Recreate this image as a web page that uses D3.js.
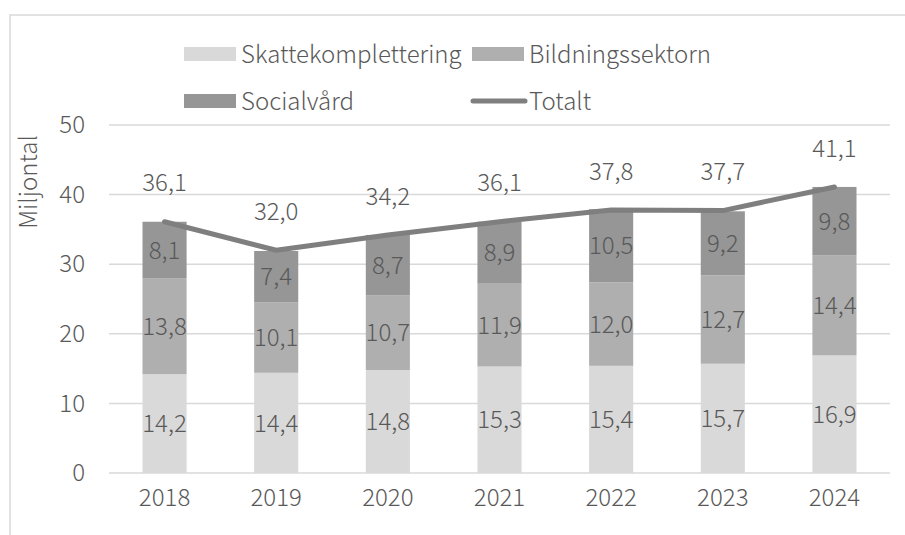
<!DOCTYPE html>
<html>
<head>
<meta charset="utf-8">
<script src="https://cdn.jsdelivr.net/npm/d3@7"></script>
<style>
    body { margin: 0; background: #fff; }
    text { font-family: "Noto Sans CJK JP", "Noto Sans", sans-serif; font-weight: 300; fill: #595959; }
</style>
</head>
<body>
<div id="chart"></div>
<script>

const years = ["2018", "2019", "2020", "2021", "2022", "2023", "2024"];
const skattekomplettering = [14.2, 14.4, 14.8, 15.3, 15.4, 15.7, 16.9];
const bildningssektorn = [13.8, 10.1, 10.7, 11.9, 12.0, 12.7, 14.4];
const socialvard = [8.1, 7.4, 8.7, 8.9, 10.5, 9.2, 9.8];
const totalt = [36.1, 32.0, 34.2, 36.1, 37.8, 37.7, 41.1];
const yTicks = [0, 10, 20, 30, 40, 50];

const seriesNames = ["Skattekomplettering", "Bildningssektorn", "Socialvård"];
const seriesColors = ["#d9d9d9", "#afafaf", "#969696"];
const lineColor = "#7f7f7f";
const fontSize = 24;

function drawChart() {

    const dimesions = {
        width: 905,
        height: 535,
        margin: { top: 125, bottom: 62, left: 109, right: 15 }
    }
    dimesions.containerWidth = dimesions.width - (dimesions.margin.left + dimesions.margin.right);
    dimesions.containerHeight = dimesions.height - (dimesions.margin.top + dimesions.margin.bottom);

    const svg = d3.select("#chart")
        .append("svg")
        .attr("width", dimesions.width)
        .attr("height", dimesions.height);

    // outer frame
    svg.append("rect")
        .attr("x", 10)
        .attr("y", 15)
        .attr("width", 1000)
        .attr("height", 1000)
        .attr("fill", "none")
        .attr("stroke", "#d9d9d9")
        .attr("stroke-width", 1.5);

    const table = years.map((year, i) => ({
        year,
        "Skattekomplettering": skattekomplettering[i],
        "Bildningssektorn": bildningssektorn[i],
        "Socialvård": socialvard[i],
        total: totalt[i]
    }));

    const stacked = d3.stack().keys(seriesNames)(table);

    const xScale = d3.scaleBand()
        .domain(years)
        .range([0, dimesions.containerWidth])
        .paddingInner(0.605)
        .paddingOuter(0.3);

    const yScale = d3.scaleLinear()
        .domain([0, 50])
        .range([dimesions.containerHeight, 0]);

    const container = svg.append("g")
        .attr("transform", `translate(${dimesions.margin.left}, ${dimesions.margin.top})`);

    // gridlines
    container.append("g")
        .selectAll("line")
        .data(yTicks)
        .join("line")
        .attr("x1", 0)
        .attr("x2", dimesions.containerWidth)
        .attr("y1", d => yScale(d))
        .attr("y2", d => yScale(d))
        .attr("stroke", "#d9d9d9")
        .attr("stroke-width", 1.5);

    // y axis labels
    const yAxis = d3.axisLeft(yScale)
        .tickValues(yTicks)
        .tickSize(0)
        .tickPadding(24);

    const yAxisGroup = container.append("g").call(yAxis);
    yAxisGroup.select(".domain").remove();
    yAxisGroup.selectAll("text")
        .attr("font-size", fontSize)
        .attr("font-family", null)
        .attr("fill", null);

    // x axis labels
    const xAxis = d3.axisBottom(xScale).tickSize(0).tickPadding(16);
    const xAxisGroup = container.append("g")
        .attr("transform", `translate(0, ${dimesions.containerHeight})`)
        .call(xAxis);
    xAxisGroup.select(".domain").remove();
    xAxisGroup.selectAll("text")
        .attr("font-size", fontSize)
        .attr("font-family", null)
        .attr("fill", null);

    // bars
    const layers = container.append("g")
        .selectAll("g")
        .data(stacked)
        .join("g")
        .attr("fill", (d, i) => seriesColors[i]);

    layers.selectAll("rect")
        .data(d => d)
        .join("rect")
        .attr("x", d => xScale(d.data.year))
        .attr("width", xScale.bandwidth())
        .attr("y", d => yScale(d[1]))
        .attr("height", d => yScale(d[0]) - yScale(d[1]));

    const fmt = v => d3.format(".1f")(v).replace(".", ",");

    layers.selectAll("text")
        .data(d => d)
        .join("text")
        .attr("x", d => xScale(d.data.year) + xScale.bandwidth() / 2)
        .attr("y", d => yScale((d[0] + d[1]) / 2))
        .attr("dy", "0.36em")
        .attr("text-anchor", "middle")
        .attr("font-size", fontSize)
        .text(d => fmt(d[1] - d[0]));

    // total line
    const line = d3.line()
        .x(d => xScale(d.year) + xScale.bandwidth() / 2)
        .y(d => yScale(d.total));

    container.append("path")
        .datum(table)
        .attr("fill", "none")
        .attr("stroke", lineColor)
        .attr("stroke-width", 5)
        .attr("stroke-linecap", "round")
        .attr("stroke-linejoin", "round")
        .attr("d", line);

    container.append("g")
        .selectAll("text")
        .data(table)
        .join("text")
        .attr("x", d => xScale(d.year) + xScale.bandwidth() / 2)
        .attr("y", d => yScale(d.total) - 39)
        .attr("dy", "0.36em")
        .attr("text-anchor", "middle")
        .attr("font-size", fontSize)
        .text(d => fmt(d.total));

    // y axis title
    svg.append("text")
        .attr("transform", "translate(28, 182) rotate(-90)")
        .attr("dy", "0.36em")
        .attr("text-anchor", "middle")
        .attr("font-size", fontSize)
        .text("Miljontal");

    // legend
    const legendItems = [
        { name: seriesNames[0], color: seriesColors[0], x: 184, y: 54, type: "rect" },
        { name: seriesNames[1], color: seriesColors[1], x: 472, y: 54, type: "rect" },
        { name: seriesNames[2], color: seriesColors[2], x: 184, y: 101, type: "rect" },
        { name: "Totalt", color: lineColor, x: 472, y: 101, type: "line" }
    ];

    const legend = svg.append("g")
        .selectAll("g")
        .data(legendItems)
        .join("g")
        .attr("transform", d => `translate(${d.x}, ${d.y})`);

    legend.filter(d => d.type === "rect")
        .append("rect")
        .attr("x", 0)
        .attr("y", -7)
        .attr("width", 52)
        .attr("height", 14)
        .attr("fill", d => d.color);

    legend.filter(d => d.type === "line")
        .append("line")
        .attr("x1", 1)
        .attr("x2", 53)
        .attr("y1", 0)
        .attr("y2", 0)
        .attr("stroke", d => d.color)
        .attr("stroke-width", 5)
        .attr("stroke-linecap", "round");

    legend.append("text")
        .attr("x", 57)
        .attr("dy", "0.36em")
        .attr("font-size", fontSize)
        .text(d => d.name);
}

drawChart();
</script>
</body>
</html>
